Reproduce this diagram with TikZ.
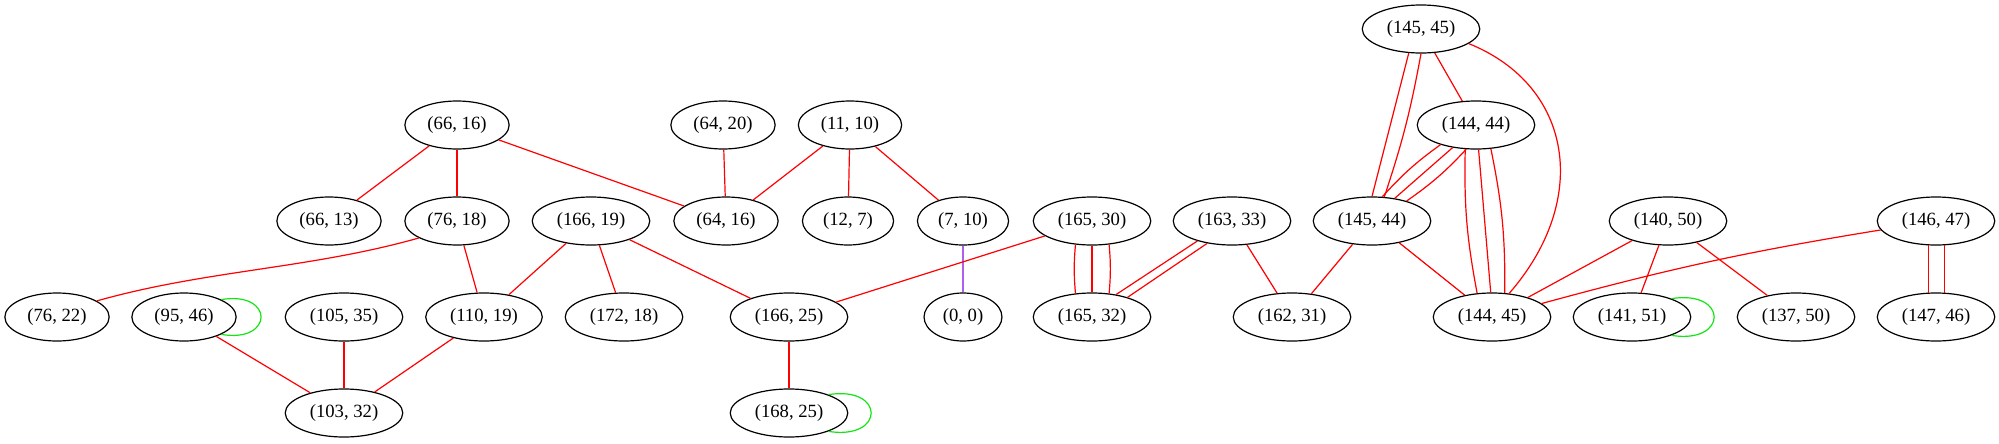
\documentclass[tikz,border=0pt]{standalone}
\usepackage{fontspec}
\setmainfont{Liberation Serif}
\usetikzlibrary{shapes.geometric}
\definecolor{gvpurple}{RGB}{175,95,240}
\definecolor{gvgreen}{RGB}{20,230,20}
\tikzset{
  gv/.style={ellipse, draw, line width=0.9pt, inner xsep=5.5pt, inner ysep=0pt,
    minimum height=36pt, font=\fontsize{14pt}{16pt}\selectfont},
  ed/.style={red, line width=0.9pt},
  pe/.style={gvpurple, line width=1.1pt},
  lp/.style={gvgreen, line width=0.9pt}
}
\begin{document}
\begin{tikzpicture}[x=0.75pt,y=-0.75pt]
\fill[white] (0,0) rectangle (1999,443);
\useasboundingbox (0,0) rectangle (1999,443);
% rank 0
\node[gv] (n145_45) at (1421,29) {(145, 45)};
% rank 1
\node[gv] (n66_16) at (457,125) {(66, 16)};
\node[gv] (n64_20) at (723,125) {(64, 20)};
\node[gv] (n11_10) at (850,125) {(11, 10)};
\node[gv] (n144_44) at (1476,125) {(144, 44)};
% rank 2
\node[gv] (n66_13) at (329,221) {(66, 13)};
\node[gv] (n76_18) at (457,221) {(76, 18)};
\node[gv] (n166_19) at (591,221) {(166, 19)};
\node[gv] (n64_16) at (726,221) {(64, 16)};
\node[gv] (n12_7) at (848,221) {(12, 7)};
\node[gv] (n7_10) at (963,221) {(7, 10)};
\node[gv] (n165_30) at (1092,221) {(165, 30)};
\node[gv] (n163_33) at (1232,221) {(163, 33)};
\node[gv] (n145_44) at (1372,221) {(145, 44)};
\node[gv] (n140_50) at (1668,221) {(140, 50)};
\node[gv] (n146_47) at (1936,221) {(146, 47)};
% rank 3
\node[gv] (n76_22) at (57,317) {(76, 22)};
\node[gv] (n95_46) at (184,317) {(95, 46)};
\node[gv] (n105_35) at (344,317) {(105, 35)};
\node[gv] (n110_19) at (484,317) {(110, 19)};
\node[gv] (n172_18) at (624,317) {(172, 18)};
\node[gv] (n166_25) at (789,317) {(166, 25)};
\node[gv] (n0_0) at (963,317) {(0, 0)};
\node[gv] (n165_32) at (1092,317) {(165, 32)};
\node[gv] (n162_31) at (1292,317) {(162, 31)};
\node[gv] (n144_45) at (1492,317) {(144, 45)};
\node[gv] (n141_51) at (1632,317) {(141, 51)};
\node[gv] (n137_50) at (1796,317) {(137, 50)};
\node[gv] (n147_46) at (1936,317) {(147, 46)};
% rank 4
\node[gv] (n103_32) at (344,413) {(103, 32)};
\node[gv] (n168_25) at (789,413) {(168, 25)};

% straight edges
\draw[ed] (n66_16) -- (n66_13);
\draw[ed] (n66_16) -- (n76_18);
\draw[ed] (n66_16) -- (n64_16);
\draw[ed] (n64_20) -- (n64_16);
\draw[ed] (n11_10) -- (n64_16);
\draw[ed] (n11_10) -- (n12_7);
\draw[ed] (n11_10) -- (n7_10);
\draw[pe] (n7_10) -- (n0_0);
\draw[ed] (n76_18) -- (n110_19);
\draw[ed] (n166_19) -- (n110_19);
\draw[ed] (n166_19) -- (n172_18);
\draw[ed] (n166_19) -- (n166_25);
\draw[ed] (n165_30) -- (n166_25);
\draw[ed] (n163_33) -- (n162_31);
\draw[ed] (n145_44) -- (n162_31);
\draw[ed] (n145_44) -- (n144_45);
\draw[ed] (n145_45) -- (n144_44);
\draw[ed] (n140_50) -- (n144_45);
\draw[ed] (n140_50) -- (n141_51);
\draw[ed] (n140_50) -- (n137_50);
\draw[ed] (n95_46) -- (n103_32);
\draw[ed] (n105_35) -- (n103_32);
\draw[ed] (n110_19) -- (n103_32);
\draw[ed] (n166_25) -- (n168_25);
\draw[ed] (n146_47) to[bend right=3] (n144_45);

% curved edges
\draw[ed] (n76_18.204) .. controls +(-110,31) and +(110,-31) .. (n76_22.22);
\draw[ed] (n145_45.-17) .. controls +(104,42) and +(82,-94) .. (n144_45.54);

% multi-edges
\draw[ed] (n165_30.-125.6) to[bend right=5] (n165_32.125.6);
\draw[ed] (n165_30) -- (n165_32);
\draw[ed] (n165_30.-54.4) to[bend left=5] (n165_32.54.4);

\draw[ed] (n163_33.210) -- (n165_32.43);
\draw[ed] (n163_33.222) -- (n165_32.29.5);

\draw[ed] (n145_45.-117) -- (n145_44.90);
\draw[ed] (n145_45.-90) to[bend left=4] (n145_44.63.5);

\draw[ed] (n144_44.209.7) to[bend right=6] (n145_44.67.5);
\draw[ed] (n144_44.224.1) -- (n145_44.45.7);
\draw[ed] (n144_44.248) to[bend left=6] (n145_44.30.8);

\draw[ed] (n144_44.-114) to[bend right=6] (n144_45.122);
\draw[ed] (n144_44.-84.8) -- (n144_45.93);
\draw[ed] (n144_44.-58.5) to[bend left=6] (n144_45.62.5);

\draw[ed] (n146_47.-108.6) -- (n147_46.108.6);
\draw[ed] (n146_47.-71.4) -- (n147_46.71.4);

% self loops
\draw[lp] (n95_46.25) .. controls +(53,-9) and +(53,9) .. (n95_46.-25);
\draw[lp] (n168_25.25) .. controls +(57,-9) and +(57,9) .. (n168_25.-25);
\draw[lp] (n141_51.25) .. controls +(57,-9) and +(57,9) .. (n141_51.-25);
\end{tikzpicture}
\end{document}
